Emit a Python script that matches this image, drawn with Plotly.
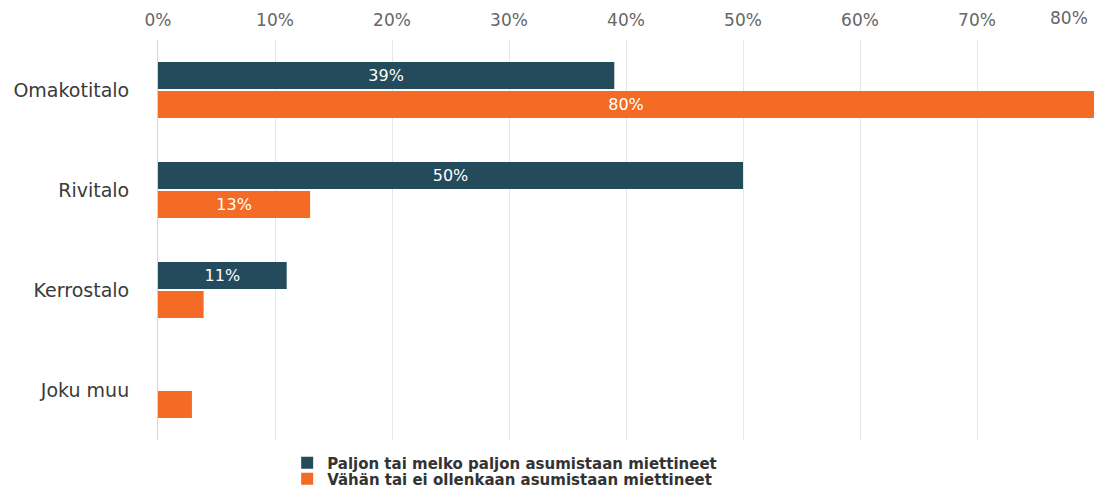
import plotly.graph_objects as go

categories = ["Omakotitalo", "Rivitalo", "Kerrostalo", "Joku muu"]
series_names = ["Paljon tai melko paljon asumistaan miettineet",
                "Vähän tai ei ollenkaan asumistaan miettineet"]
values_dark = [39, 50, 11, 0]
values_orange = [80, 13, 3.9, 2.9]
labels_dark = ["39%", "50%", "11%", ""]
labels_orange = ["80%", "13%", "", ""]
tick_values = [0, 10, 20, 30, 40, 50, 60, 70]
tick_labels = ["0%", "10%", "20%", "30%", "40%", "50%", "60%", "70%"]
last_tick_label = "80%"

colors = ["#234b5b", "#f36b24"]
FONT = "DejaVu Sans, Liberation Sans, Arial, sans-serif"

fig = go.Figure()
for name, vals, labs, col, leg in [(series_names[0], values_dark, labels_dark, colors[0], "legend"),
                                   (series_names[1], values_orange, labels_orange, colors[1], "legend2")]:
    fig.add_trace(go.Bar(
        y=categories, x=vals, name=name, orientation="h",
        marker=dict(color=col, line=dict(width=0)),
        text=labs, textposition="inside", insidetextanchor="middle",
        textfont=dict(color="white", size=16, family=FONT, weight="normal"),
        textangle=0, cliponaxis=False, legend=leg,
    ))

legend_common = dict(
    orientation="v", x=0.138, xanchor="left", yanchor="middle",
    font=dict(size=15, color="#333333", family=FONT, weight="bold"),
    itemsizing="constant", tracegroupgap=0, bgcolor="rgba(0,0,0,0)",
)

fig.update_layout(
    width=1094, height=489,
    margin=dict(l=158, r=0, t=40, b=49, autoexpand=False),
    paper_bgcolor="white", plot_bgcolor="white",
    barmode="group", bargap=0.42, bargroupgap=0.07,
    font=dict(family=FONT, color="#666666"),
    xaxis=dict(
        side="top", range=[0, 80], tickvals=tick_values, ticktext=tick_labels,
        showgrid=True, gridcolor="#e6e6e6", gridwidth=1, zeroline=False,
        showline=False, ticks="", tickfont=dict(size=17, color="#666666", family=FONT),
        ticklabelstandoff=10, fixedrange=True,
    ),
    yaxis=dict(
        categoryorder="array", categoryarray=categories, autorange="reversed",
        showline=True, linecolor="#ccd6eb", linewidth=1, showgrid=False,
        ticks="", ticklabelstandoff=24,
        tickfont=dict(size=19, color="#3a3a3a", family=FONT),
    ),
    legend=dict(legend_common, y=-0.0575),
    legend2=dict(legend_common, y=-0.0975),
    showlegend=True,
    annotations=[dict(
        text=last_tick_label, xref="paper", yref="paper", x=1.0, y=1.0,
        xanchor="right", yanchor="bottom", yshift=10, xshift=-4, showarrow=False,
        font=dict(size=17, color="#666666", family=FONT),
    )],
)

fig.write_html("out.html", config={"displayModeBar": False},
               post_script="document.body.style.margin='0';document.body.style.overflow='hidden';")
